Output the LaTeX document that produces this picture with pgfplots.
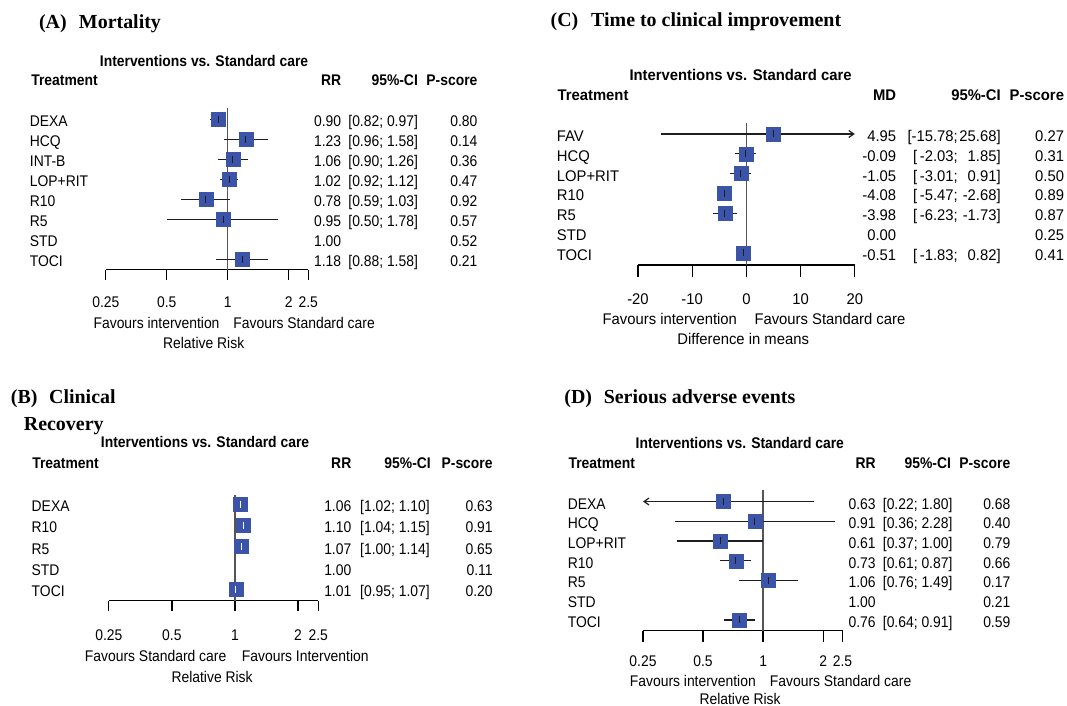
\documentclass[border=0pt]{standalone}
\usepackage{fontspec}
\setmainfont[FakeStretch=0.9]{Liberation Sans}
\newfontfamily\cfont[FakeStretch=0.96]{Liberation Sans}
\newfontfamily\ttl{Liberation Serif}
\usepackage{pgfplots}
\pgfplotsset{compat=1.18}
\usetikzlibrary{arrows.meta}

\definecolor{sqblue}{RGB}{59,84,168}
\definecolor{refgray}{RGB}{85,85,85}
\definecolor{cigray}{RGB}{30,30,30}
\newcommand{\fs}{\fontsize{15.5}{18}\selectfont}
\newcommand{\cfs}{\fontsize{15.5}{18}\selectfont\cfont}
\newcommand{\tf}{\fontsize{20}{24}\selectfont\ttl\bfseries}

\pgfplotsset{
  forest/.style={
    scale only axis, clip=false, anchor=south west,
    axis x line*=bottom, axis y line=none,
    tick align=outside, major tick length=10bp,
    xminorticks=false,
    axis line style={line width=1.3bp, -},
    xtick style={line width=1.3bp, black},
    tick label style={font=\fs, inner sep=0pt},
    /pgf/number format/assume math mode=true,
  },
  sq/.style={only marks, mark=square*, mark size=7bp, color=sqblue},
  est/.style={only marks, mark=|, mark size=3.5bp, color=cigray, mark options={line width=1bp}},
  ci/.style={color=cigray, line width=1.2bp, mark=none},
  refl/.style={color=refgray, line width=1.3bp, mark=none},
}

% one table row: square centre y, label, estimate, CI, P-score
\newcommand{\rw}[5]{%
  \node[lw] at (\xl,{#1+7.5}) {#2};
  \node[le] at (\xr,{#1+7.5}) {#3};
  \node[lw] at (\xc,{#1+7.5}) {#4};
  \node[le] at (\xp,{#1+7.5}) {#5};}

\begin{document}
\begin{tikzpicture}[font=\fs,
  lw/.style={anchor=base west, inner sep=0pt},
  le/.style={anchor=base east, inner sep=0pt},
  lc/.style={anchor=base, inner sep=0pt},
  hd/.style={font=\fs\bfseries}]
\path[use as bounding box] (0bp,0bp) rectangle (1067bp,-706bp);

\begin{scope}[x=1bp, y=-1bp]
% ---------------- (A) Mortality
\node[lw,font=\tf] at (38.9,28.3) {(A)};
\node[lw,font=\tf] at (78.8,28.3) {Mortality};
\node[lw,hd] at (99.7,66.2) {Interventions vs. Standard care};
\node[lw,hd] at (31.1,85.5) {Treatment};
\node[le,hd] at (341.4,85.5) {RR};
\node[le,hd] at (418.1,85.5) {95\%-CI};
\node[le,hd] at (477.6,85.5) {P-score};
\def\xl{29.7}\def\xr{341.4}\def\xc{348.2}\def\xp{477.6}
\rw{119.3}{DEXA}{0.90}{[0.82; 0.97]}{0.80}
\rw{139.3}{HCQ}{1.23}{[0.96; 1.58]}{0.14}
\rw{159.3}{INT-B}{1.06}{[0.90; 1.26]}{0.36}
\rw{179.3}{LOP+RIT}{1.02}{[0.92; 1.12]}{0.47}
\rw{199.3}{R10}{0.78}{[0.59; 1.03]}{0.92}
\rw{219.3}{R5}{0.95}{[0.50; 1.78]}{0.57}
\rw{239.3}{STD}{1.00}{}{0.52}
\rw{259.3}{TOCI}{1.18}{[0.88; 1.58]}{0.21}
\node[le] at (219.7,328.2) {Favours intervention};
\node[lw] at (233.2,328.2) {Favours Standard care};
\node[lc] at (203.7,348.2) {Relative Risk};

% ---------------- (B) Clinical Recovery
\node[lw,font=\tf] at (10.8,403.3) {(B)};
\node[lw,font=\tf] at (49,403.3) {Clinical};
\node[lw,font=\tf] at (23.7,430.7) {Recovery};
\node[lw,hd] at (100.7,447.8) {Interventions vs. Standard care};
\node[lw,hd] at (32.1,468.2) {Treatment};
\node[le,hd] at (351.5,468.2) {RR};
\node[le,hd] at (431,468.2) {95\%-CI};
\node[le,hd] at (492.8,468.2) {P-score};
\def\xl{31.5}\def\xr{351.5}\def\xc{360}\def\xp{492.8}
\rw{504}{DEXA}{1.06}{[1.02; 1.10]}{0.63}
\rw{525.25}{R10}{1.10}{[1.04; 1.15]}{0.91}
\rw{546.5}{R5}{1.07}{[1.00; 1.14]}{0.65}
\rw{567.75}{STD}{1.00}{}{0.11}
\rw{589}{TOCI}{1.01}{[0.95; 1.07]}{0.20}
\node[le] at (226.5,661.5) {Favours Standard care};
\node[lw] at (241.7,661.5) {Favours Intervention};
\node[lc] at (212.1,682.2) {Relative Risk};

% ---------------- (C) Time to clinical improvement
\node[lw,font=\tf] at (550.5,26.7) {(C)};
\node[lw,font=\tf] at (591,26.7) {Time to clinical improvement};
\begin{scope}[font=\cfs, hd/.style={font=\cfs\bfseries}]
\node[lw,hd] at (629.3,80.5) {Interventions vs. Standard care};
\node[lw,hd] at (557.4,100.5) {Treatment};
\node[le,hd] at (896.4,100.5) {MD};
\node[le,hd] at (1000.9,100.5) {95\%-CI};
\node[le,hd] at (1064.2,100.5) {P-score};
\def\xl{556.7}\def\xr{896.4}\def\xc{2000}\def\xp{1064.2}
\rw{134}{FAV}{4.95}{}{0.27}
\rw{153.8}{HCQ}{-0.09}{}{0.31}
\rw{173.6}{LOP+RIT}{-1.05}{}{0.50}
\rw{193.4}{R10}{-4.08}{}{0.89}
\rw{213.2}{R5}{-3.98}{}{0.87}
\rw{233}{STD}{0.00}{}{0.25}
\rw{252.8}{TOCI}{-0.51}{}{0.41}
\node[le] at (958,141.5) {[-15.78;};
\node[le] at (1000.9,141.5) {25.68]};
\foreach \yy/\lo/\hi in {161.3/-2.03/1.85, 181.1/-3.01/0.91, 200.9/-5.47/-2.68,
                         220.7/-6.23/-1.73, 260.3/-1.83/0.82}{
  \node[lw] at (912.9,\yy) {[};
  \node[le] at (958,\yy) {\lo;};
  \node[le] at (1000.9,\yy) {\hi]};
}
\node[le] at (737.2,324.8) {Favours intervention};
\node[lw] at (754.3,324.8) {Favours Standard care};
\node[lc] at (743.2,344.8) {Difference in means};
\end{scope}

% ---------------- (D) Serious adverse events
\node[lw,font=\tf] at (564.2,403.3) {(D)};
\node[lw,font=\tf] at (603.6,403.3) {Serious adverse events};
\node[lw,hd] at (635.5,448.8) {Interventions vs. Standard care};
\node[lw,hd] at (568.4,468.8) {Treatment};
\node[le,hd] at (875.9,468.8) {RR};
\node[le,hd] at (951.2,468.8) {95\%-CI};
\node[le,hd] at (1010.5,468.8) {P-score};
\def\xl{567.7}\def\xr{875.9}\def\xc{882.7}\def\xp{1010.5}
\rw{501.5}{DEXA}{0.63}{[0.22; 1.80]}{0.68}
\rw{521.2}{HCQ}{0.91}{[0.36; 2.28]}{0.40}
\rw{541}{LOP+RIT}{0.61}{[0.37; 1.00]}{0.79}
\rw{560.7}{R10}{0.73}{[0.61; 0.87]}{0.66}
\rw{580.4}{R5}{1.06}{[0.76; 1.49]}{0.17}
\rw{600.2}{STD}{1.00}{}{0.21}
\rw{619.9}{TOCI}{0.76}{[0.64; 0.91]}{0.59}
\node[le] at (756,686.2) {Favours intervention};
\node[lw] at (769.7,686.2) {Favours Standard care};
\node[lc] at (740.1,704) {Relative Risk};
\end{scope}

% ---------------- plots
\begin{axis}[forest, at={(105.8bp,-269.5bp)}, width=202.5bp, height=161.2bp,
  xticklabel shift=16.7bp,
  xmode=log, xmin=0.25, xmax=2.5, ymin=-7.51, ymax=0.55,
  xtick={0.25,0.5,1,2,2.5}, xticklabels={0.25,0.5,1,2,2.5}]
\addplot[refl] coordinates {(1,-7.51) (1,0.55)};
\addplot[sq] coordinates {(0.90,0) (1.23,-1) (1.06,-2) (1.02,-3) (0.78,-4) (0.95,-5) (1.18,-7)};
\addplot[ci] coordinates {(0.82,0) (0.97,0)};
\addplot[ci] coordinates {(0.96,-1) (1.58,-1)};
\addplot[ci] coordinates {(0.90,-2) (1.26,-2)};
\addplot[ci] coordinates {(0.92,-3) (1.12,-3)};
\addplot[ci] coordinates {(0.59,-4) (1.03,-4)};
\addplot[ci] coordinates {(0.50,-5) (1.78,-5)};
\addplot[ci] coordinates {(0.88,-7) (1.58,-7)};
\addplot[est] coordinates {(0.90,0) (1.23,-1) (1.06,-2) (1.02,-3) (0.78,-4) (0.95,-5) (1.18,-7)};
\end{axis}

\begin{axis}[forest, at={(108.8bp,-600.7bp)}, width=209.5bp, height=105.7bp,
  xticklabel shift=18.8bp,
  xmode=log, xmin=0.25, xmax=2.5, ymin=-4.551, ymax=0.424,
  xtick={0.25,0.5,1,2,2.5}, xticklabels={0.25,0.5,1,2,2.5}]
\addplot[refl] coordinates {(1,-4.551) (1,0.424)};
\addplot[sq] coordinates {(1.06,0) (1.10,-1) (1.07,-2) (1.01,-4)};
\addplot[ci,white] coordinates {(1.02,0) (1.10,0)};
\addplot[ci,white] coordinates {(1.04,-1) (1.15,-1)};
\addplot[ci,white] coordinates {(1.00,-2) (1.14,-2)};
\addplot[ci,white] coordinates {(0.95,-4) (1.07,-4)};
\addplot[est,white] coordinates {(1.06,0) (1.10,-1) (1.07,-2) (1.01,-4)};
\end{axis}

\begin{axis}[forest, at={(638bp,-265bp)}, width=216.8bp, height=141.7bp,
  major tick length=11.7bp, xticklabel shift=17.1bp,
  tick label style={font=\cfs},
  xmin=-20, xmax=20, ymin=-6.616, ymax=0.54,
  xtick={-20,-10,0,10,20}, xticklabels={-20,-10,0,10,20}]
\addplot[refl] coordinates {(0,-6.616) (0,0.54)};
\addplot[sq] coordinates {(4.95,0) (-0.09,-1) (-1.05,-2) (-4.08,-3) (-3.98,-4) (-0.51,-6)};
\addplot[ci,-{Straight Barb[length=5bp,width=7bp]}] coordinates {(-15.78,0) (20,0)};
\addplot[ci] coordinates {(-2.03,-1) (1.85,-1)};
\addplot[ci] coordinates {(-3.01,-2) (0.91,-2)};
\addplot[ci] coordinates {(-5.47,-3) (-2.68,-3)};
\addplot[ci] coordinates {(-6.23,-4) (-1.73,-4)};
\addplot[ci] coordinates {(-1.83,-6) (0.82,-6)};
\addplot[est] coordinates {(4.95,0) (-0.09,-1) (-1.05,-2) (-4.08,-3) (-3.98,-4) (-0.51,-6)};
\end{axis}

\begin{axis}[forest, at={(643bp,-630.7bp)}, width=199.5bp, height=140.7bp,
  major tick length=11bp, xticklabel shift=13.8bp,
  xmode=log, xmin=0.25, xmax=2.5, ymin=-6.547, ymax=0.583,
  xtick={0.25,0.5,1,2,2.5}, xticklabels={0.25,0.5,1,2,2.5}]
\addplot[refl] coordinates {(1,-6.547) (1,0.583)};
\addplot[sq] coordinates {(0.63,0) (0.91,-1) (0.61,-2) (0.73,-3) (1.06,-4) (0.76,-6)};
\addplot[ci,-{Straight Barb[length=5bp,width=7bp]}] coordinates {(1.80,0) (0.25,0)};
\addplot[ci] coordinates {(0.36,-1) (2.28,-1)};
\addplot[ci] coordinates {(0.37,-2) (1.00,-2)};
\addplot[ci] coordinates {(0.61,-3) (0.87,-3)};
\addplot[ci] coordinates {(0.76,-4) (1.49,-4)};
\addplot[ci] coordinates {(0.64,-6) (0.91,-6)};
\addplot[est] coordinates {(0.63,0) (0.91,-1) (0.61,-2) (0.73,-3) (1.06,-4) (0.76,-6)};
\end{axis}
\end{tikzpicture}
\end{document}
